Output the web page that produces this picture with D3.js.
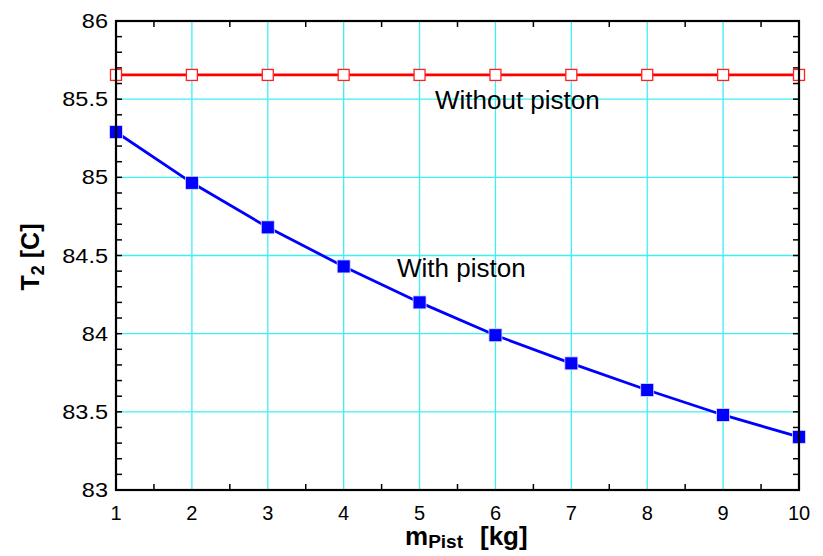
<!DOCTYPE html>
<html><head><meta charset="utf-8">
<script src="https://cdn.jsdelivr.net/npm/d3@7"></script>
<style>body{margin:0;background:#fff}svg{display:block}text{font-family:Arial,"Liberation Sans",sans-serif}</style>
</head><body><svg id="c" width="823" height="556"></svg>
<script>
const mass = [1,2,3,4,5,6,7,8,9,10];
const withPiston = [85.29,84.965,84.68,84.43,84.20,83.99,83.81,83.64,83.48,83.34];
const withoutPiston = [85.655,85.655,85.655,85.655,85.655,85.655,85.655,85.655,85.655,85.655];
const xTicks = [1,2,3,4,5,6,7,8,9,10];
const yTicks = [83,83.5,84,84.5,85,85.5,86];

const svg = d3.select("#c");
const L=116,R=799,T=21,B=490;
const x = d3.scaleLinear().domain([1,10]).range([L,R]);
const y = d3.scaleLinear().domain([83,86]).range([B,T]);

// grid
const g = svg.append("g");
g.selectAll(".vx").data(xTicks.slice(1,-1)).enter().append("line")
 .attr("x1",d=>x(d)).attr("x2",d=>x(d)).attr("y1",T).attr("y2",B)
 .attr("stroke","#3FEFF5").attr("stroke-width",1.3);
g.selectAll(".hy").data(yTicks.slice(1,-1)).enter().append("line")
 .attr("y1",d=>y(d)).attr("y2",d=>y(d)).attr("x1",L).attr("x2",R)
 .attr("stroke","#3FEFF5").attr("stroke-width",1.3);

// minor ticks
const yMinor = d3.range(83.1,86,0.1).map(v=>+v.toFixed(1));
const xMinor = d3.range(1.5,10,1);
const tk = svg.append("g").attr("stroke","#000").attr("stroke-width",1.5);
yMinor.forEach(v=>{
  tk.append("line").attr("x1",L).attr("x2",L+6).attr("y1",y(v)).attr("y2",y(v));
  tk.append("line").attr("x1",R-6).attr("x2",R).attr("y1",y(v)).attr("y2",y(v));
});
xMinor.forEach(v=>{
  tk.append("line").attr("y1",B).attr("y2",B-6).attr("x1",x(v)).attr("x2",x(v));
  tk.append("line").attr("y1",T).attr("y2",T+6).attr("x1",x(v)).attr("x2",x(v));
});

// lines
const line = d3.line().x((d,i)=>x(mass[i])).y(d=>y(d));
svg.append("path").datum(withoutPiston).attr("d",line).attr("fill","none").attr("stroke","#FF0000").attr("stroke-width",2.8);
svg.append("path").datum(withPiston).attr("d",line).attr("fill","none").attr("stroke","#0000FF").attr("stroke-width",2.8);

const s=11;
svg.selectAll(".rm").data(withoutPiston).enter().append("rect")
 .attr("x",(d,i)=>x(mass[i])-s/2).attr("y",d=>y(d)-s/2).attr("width",s).attr("height",s)
 .attr("fill","#fff").attr("stroke","#FF2020").attr("stroke-width",1.3);
svg.selectAll(".bm").data(withPiston).enter().append("rect")
 .attr("x",(d,i)=>x(mass[i])-6.5).attr("y",d=>y(d)-6.5).attr("width",13).attr("height",13)
 .attr("fill","#0000FF").attr("stroke","#E0E0FF").attr("stroke-width",0.8);

// frame
svg.append("rect").attr("x",L).attr("y",T).attr("width",R-L).attr("height",B-T)
 .attr("fill","none").attr("stroke","#000").attr("stroke-width",2.2);

// tick labels
svg.selectAll(".yl").data(yTicks).enter().append("text")
 .attr("transform",d=>`translate(${L-8},${y(d)+7}) scale(1.12,1)`)
 .attr("text-anchor","end").attr("font-size",21).text(d=>d);
svg.selectAll(".xl").data(xTicks).enter().append("text")
 .attr("x",d=>x(d)).attr("y",B+30).attr("text-anchor","middle").attr("font-size",20).text(d=>d);

// annotations
svg.append("text").attr("x",435).attr("y",109).attr("font-size",26).text("Without piston");
svg.append("text").attr("x",397).attr("y",277).attr("font-size",26).text("With piston");

// axis titles
const yt = svg.append("text").attr("transform","translate(39,257) rotate(-90)").attr("text-anchor","middle")
 .attr("font-size",25).attr("font-weight","bold");
yt.append("tspan").text("T");
yt.append("tspan").attr("font-size",18).attr("dy",5).text("2");
yt.append("tspan").attr("dy",-5).text(" [C]");

const xt = svg.append("text").attr("x",405).attr("y",545).attr("font-size",26).attr("font-weight","bold");
xt.append("tspan").text("m");
xt.append("tspan").attr("font-size",19).attr("dy",3).text("Pist");
xt.append("tspan").attr("dy",-3).attr("x",480).text("[kg]");
</script></body></html>
